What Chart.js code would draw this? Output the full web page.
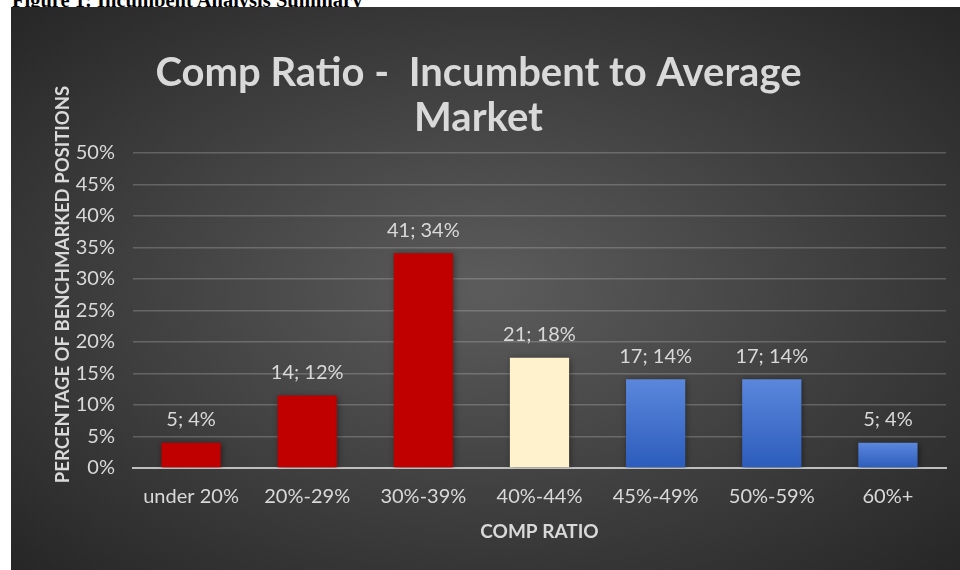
<!DOCTYPE html>
<html><head><meta charset="utf-8">
<script src="https://cdn.jsdelivr.net/npm/chart.js@4.4.0/dist/chart.umd.min.js"></script>
<style>
html,body{margin:0;padding:0;background:#fff;width:960px;height:570px;overflow:hidden;}
#caption{position:absolute;left:12px;top:-11px;font:bold 20.5px "Liberation Serif",serif;color:#000;white-space:nowrap;z-index:0}
#box{position:absolute;left:11px;top:7px;width:949px;height:563px;background:radial-gradient(ellipse farthest-corner at 50% 50%,#5c5c5c 0%,#262626 100%);z-index:1}
canvas{display:block}
</style></head><body>
<div id="caption">Figure 1: Incumbent Analysis Summary</div>
<div id="box"><canvas id="c" width="949" height="563"></canvas></div>
<script>
const categories = ['under 20%','20%-29%','30%-39%','40%-44%','45%-49%','50%-59%','60%+'];
const percentValues = [4.0, 11.5, 34.1, 17.5, 14.1, 14.1, 4.0];
const counts = [5, 14, 41, 21, 17, 17, 5];
const barGroups = ['red','red','red','cream','blue','blue','blue'];
const yTicks = [0,5,10,15,20,25,30,35,40,45,50];
const titleLines = ['Comp Ratio -  Incumbent to Average','Market'];
const xAxisTitle = 'COMP RATIO';
const yAxisTitle = 'PERCENTAGE OF BENCHMARKED POSITIONS';

const textColor = '#d9d9d9';

function barFill(ctx){
  const g = barGroups[ctx.dataIndex];
  if (g === 'red') return '#c00000';
  if (g === 'cream') return '#fff2cc';
  const chart = ctx.chart;
  const ys = chart.scales && chart.scales.y;
  if (!ys || !chart.chartArea) return '#4472c4';
  const top = ys.getPixelForValue(percentValues[ctx.dataIndex]);
  const bot = ys.getPixelForValue(0);
  const grad = chart.ctx.createLinearGradient(0, top, 0, bot);
  grad.addColorStop(0, '#5b87dc');
  grad.addColorStop(1, '#2c5cbc');
  return grad;
}

const shadowPlugin = {
  id:'barShadow',
  beforeDatasetsDraw(chart){
    const c = chart.ctx; c.save();
    c.shadowColor='rgba(0,0,0,0.45)'; c.shadowBlur=6; c.shadowOffsetX=1; c.shadowOffsetY=1;
  },
  afterDatasetsDraw(chart){ chart.ctx.restore(); }
};

const labelPlugin = {
  id:'barLabels',
  afterDatasetsDraw(chart){
    const c = chart.ctx;
    const meta = chart.getDatasetMeta(0);
    c.save();
    c.font = '20px Lato';
    c.fillStyle = textColor;
    c.textAlign = 'center';
    c.textBaseline = 'middle';
    meta.data.forEach((bar,i)=>{
      const txt = counts[i] + '; ' + Math.round(percentValues[i]) + '%';
      c.fillText(txt, bar.x, bar.y - 23);
    });
    c.restore();
  }
};

const yTitlePlugin = {
  id:'yTitle',
  afterDraw(chart){
    const c = chart.ctx, a = chart.chartArea;
    c.save();
    c.translate(a.left - 70, (a.top + a.bottom)/2 - 26);
    c.rotate(-Math.PI/2);
    c.font = 'bold 18.5px Lato';
    c.fillStyle = textColor;
    c.textAlign = 'center';
    c.textBaseline = 'middle';
    c.fillText(yAxisTitle, 0, 0);
    c.restore();
  }
};

new Chart(document.getElementById('c'), {
  type:'bar',
  data:{
    labels: categories,
    datasets:[{
      data: percentValues,
      backgroundColor: barFill,
      borderWidth: 0,
      barPercentage: 0.51,
      categoryPercentage: 1
    }]
  },
  options:{
    responsive:false,
    animation:false,
    devicePixelRatio:1,
    layout:{padding:{left:0,right:14,top:0,bottom:0}},
    plugins:{
      legend:{display:false},
      tooltip:{enabled:false},
      title:{display:true,text:titleLines,color:textColor,
        font:{family:'Lato',size:40,weight:'bold',lineHeight:1.125},
        padding:{top:43.5,bottom:12.5}}
    },
    scales:{
      x:{
        afterFit(scale){ scale.height = 102; },
        grid:{display:false,drawTicks:false},
        border:{display:true,color:'#bfbfbf',width:2},
        ticks:{color:textColor,font:{family:'Lato',size:20},padding:17},
        title:{display:true,text:xAxisTitle,color:textColor,
          font:{family:'Lato',size:19,weight:'bold'},padding:{top:0,bottom:27}}
      },
      y:{
        min:0,max:50,
        afterFit(scale){ scale.width = 122; },
        afterBuildTicks(scale){ scale.ticks = yTicks.map(v=>({value:v})); },
        grid:{color:'rgba(217,217,217,0.25)',lineWidth:1.5,drawTicks:false},
        border:{display:false},
        ticks:{color:textColor,font:{family:'Lato',size:20},padding:18,callback:v=>v+'%'}
      }
    }
  },
  plugins:[shadowPlugin,labelPlugin,yTitlePlugin]
});
</script>
</body></html>
